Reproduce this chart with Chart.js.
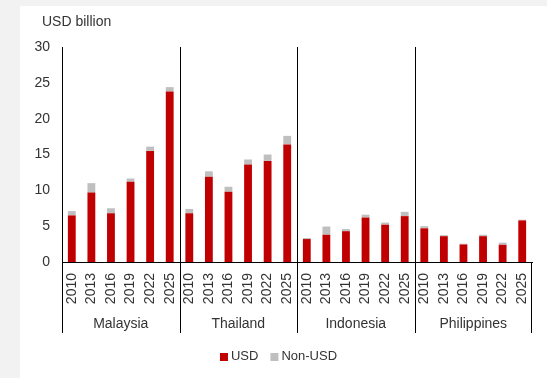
<!DOCTYPE html>
<html>
<head>
<meta charset="utf-8">
<script src="https://cdn.jsdelivr.net/npm/chart.js@4/dist/chart.umd.min.js"></script>
<style>
  html, body { margin: 0; padding: 0; background: #f2f2f2; }
  .panel { position: absolute; left: 20px; top: 6px; width: 527px; height: 372px; background: #fff; }
  canvas { display: block; }
</style>
</head>
<body>
<div class="panel"><canvas id="chart" width="527" height="372"></canvas></div>
<script>
const groups = ["Malaysia", "Thailand", "Indonesia", "Philippines"];
const years = ["2010", "2013", "2016", "2019", "2022", "2025"];
// values in USD billion (group by group)
const usd = [
  6.5, 9.7, 6.8, 11.2, 15.5, 23.8,
  6.8, 11.9, 9.8, 13.6, 14.1, 16.4,
  3.2, 3.8, 4.3, 6.2, 5.2, 6.4,
  4.7, 3.6, 2.45, 3.6, 2.4, 5.8
];
const nonUsd = [
  0.6, 1.3, 0.7, 0.45, 0.6, 0.6,
  0.6, 0.75, 0.7, 0.7, 0.9, 1.2,
  0.15, 1.15, 0.3, 0.4, 0.3, 0.6,
  0.3, 0.15, 0.1, 0.2, 0.3, 0.1
];
const yTicks = [0, 5, 10, 15, 20, 25, 30];
const unitLabel = "USD billion";

const labels = groups.flatMap(() => years);
const textColor = "#333";
const fontFamily = "'Liberation Sans', Arial, sans-serif";

// group separators, group names, unit title and legend
const groupPlugin = {
  id: "groupPlugin",
  afterDraw(chart) {
    const ctx = chart.ctx;
    const x = chart.scales.x;
    const area = chart.chartArea;
    const n = years.length;
    const lineBottom = x.bottom;
    ctx.save();
    ctx.strokeStyle = "#000";
    ctx.lineWidth = 1;
    ctx.beginPath();
    // left (y axis continued) and right edges below the plot
    ctx.moveTo(area.left + 0.5, area.bottom);
    ctx.lineTo(area.left + 0.5, lineBottom);
    ctx.moveTo(Math.round(area.right) - 0.5, area.bottom);
    ctx.lineTo(Math.round(area.right) - 0.5, lineBottom);
    for (let g = 1; g < groups.length; g++) {
      const px = Math.round((x.getPixelForValue(g * n - 1) + x.getPixelForValue(g * n)) / 2) + 0.5;
      ctx.moveTo(px, area.top);
      ctx.lineTo(px, lineBottom);
    }
    ctx.stroke();

    ctx.fillStyle = textColor;
    ctx.font = "14px " + fontFamily;
    ctx.textAlign = "center";
    ctx.textBaseline = "middle";
    groups.forEach((name, g) => {
      const cx = (x.getPixelForValue(g * n) + x.getPixelForValue(g * n + n - 1)) / 2;
      ctx.fillText(name, cx, lineBottom - 9);
    });

    ctx.textAlign = "left";
    ctx.fillText(unitLabel, 22, 16);

    // legend
    ctx.font = "13px " + fontFamily;
    const box = 8, gap = 3, itemGap = 12;
    const items = chart.data.datasets.map(d => ({ text: d.label, color: d.backgroundColor, w: ctx.measureText(d.label).width }));
    let total = 0;
    items.forEach((it, i) => { total += box + gap + it.w + (i ? itemGap : 0); });
    let lx = chart.width / 2 - total / 2 - 5;
    const ly = 350;
    items.forEach(it => {
      ctx.fillStyle = it.color;
      ctx.fillRect(lx, ly - 3, box, box);
      ctx.fillStyle = textColor;
      ctx.fillText(it.text, lx + box + gap, ly);
      lx += box + gap + it.w + itemGap;
    });
    ctx.restore();
  }
};

new Chart(document.getElementById("chart"), {
  type: "bar",
  data: {
    labels: labels,
    datasets: [
      { label: "USD", data: usd, backgroundColor: "#c00000", barPercentage: 0.4, categoryPercentage: 1 },
      { label: "Non-USD", data: nonUsd, backgroundColor: "#bfbfbf", barPercentage: 0.4, categoryPercentage: 1 }
    ]
  },
  options: {
    responsive: false,
    animation: false,
    layout: { padding: { top: 41, right: 15, bottom: 45, left: 0 } },
    plugins: {
      legend: { display: false },
      tooltip: { enabled: false }
    },
    scales: {
      x: {
        stacked: true,
        grid: { display: false, drawTicks: false },
        border: { display: true, color: "#000", width: 1 },
        ticks: {
          autoSkip: false, minRotation: 90, maxRotation: 90, padding: 11,
          color: textColor, font: { size: 14, family: fontFamily }
        },
        afterFit(scale) {
          scale.height = 71;
          scale.paddingLeft = 0;
          scale.paddingRight = 0;
        }
      },
      y: {
        stacked: true,
        min: 0, max: 30,
        grid: { display: false, drawTicks: false },
        border: { display: true, color: "#000", width: 1 },
        afterBuildTicks(scale) { scale.ticks = yTicks.map(v => ({ value: v })); },
        ticks: { padding: 12, color: textColor, font: { size: 14, family: fontFamily } },
        afterFit(scale) { scale.width = 42; }
      }
    }
  },
  plugins: [groupPlugin]
});
</script>
</body>
</html>
